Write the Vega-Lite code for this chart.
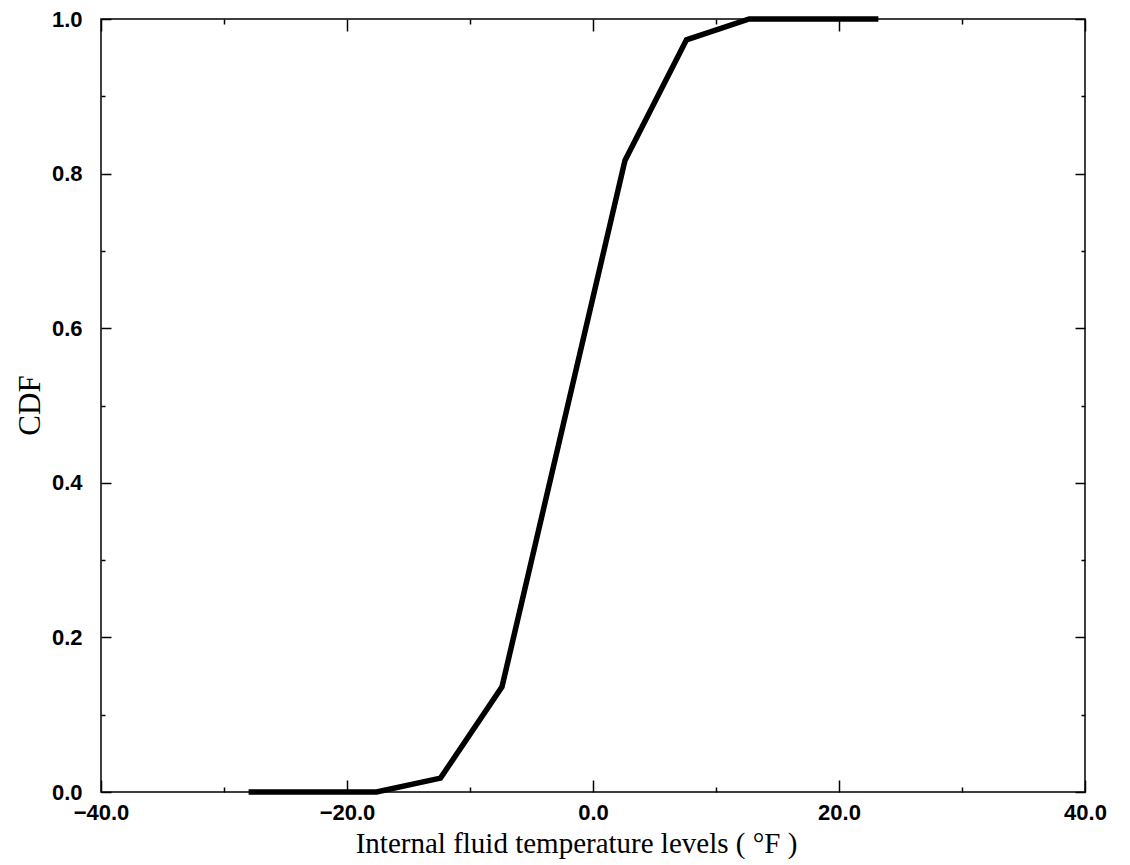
{
  "$schema": "https://vega.github.io/schema/vega-lite/v6.json",
  "autosize": "none",
  "width": 984,
  "height": 773,
  "padding": {"left": 101, "top": 19, "right": 45, "bottom": 73},
  "background": "white",
  "config": {
    "view": {"stroke": "black", "strokeWidth": 1.5},
    "axis": {"grid": false, "domain": false, "labelColor": "black", "tickColor": "black", "titleColor": "black"}
  },
  "data": {
    "values": [
      {"temp": -28.0, "cdf": 0.0},
      {"temp": -17.6, "cdf": 0.0},
      {"temp": -12.4, "cdf": 0.018},
      {"temp": -7.4, "cdf": 0.136},
      {"temp": 2.6, "cdf": 0.817},
      {"temp": 7.6, "cdf": 0.973},
      {"temp": 12.7, "cdf": 1.0},
      {"temp": 23.2, "cdf": 1.0}
    ]
  },
  "resolve": {"axis": {"x": "independent", "y": "independent"}},
  "layer": [
    {
      "mark": {"type": "line", "color": "black", "strokeWidth": 5.5, "strokeCap": "butt", "strokeJoin": "miter", "clip": false},
      "encoding": {
        "x": {
          "field": "temp", "type": "quantitative",
          "scale": {"domain": [-40, 40], "nice": false, "zero": false},
          "axis": {
            "orient": "bottom", "values": [-40, -20, 0, 20, 40], "format": ".1f",
            "ticks": false, "labelPadding": 10,
            "labelFont": "Liberation Sans", "labelFontWeight": "bold", "labelFontSize": 22,
            "labelBaseline": "top", "labelFlush": false, "labelOverlap": false,
            "title": "Internal fluid temperature levels ( °F )",
            "titleFont": "Liberation Serif", "titleFontWeight": "normal", "titleFontSize": 29,
            "titleAnchor": "middle", "titleX": 475, "titleY": 60, "titleBaseline": "alphabetic"
          }
        },
        "y": {
          "field": "cdf", "type": "quantitative",
          "scale": {"domain": [0, 1], "nice": false, "zero": false},
          "axis": {
            "orient": "left", "values": [0, 0.2, 0.4, 0.6, 0.8, 1.0], "format": ".1f",
            "ticks": false, "labelPadding": 19,
            "labelFont": "Liberation Sans", "labelFontWeight": "bold", "labelFontSize": 22,
            "labelBaseline": "middle", "labelFlush": false, "labelOverlap": false,
            "title": "CDF",
            "titleFont": "Liberation Serif", "titleFontWeight": "normal", "titleFontSize": 31,
            "titleAngle": -90, "titleX": -71, "titleY": 386, "titleAnchor": "middle", "titleBaseline": "middle"
          }
        }
      }
    },
    {
      "mark": {"type": "point", "opacity": 0},
      "encoding": {
        "x": {"field": "temp", "type": "quantitative", "axis": {"orient": "bottom", "values": [-40, -20, 0, 20, 40], "labels": false, "title": null, "tickSize": -12, "tickWidth": 1.5}},
        "y": {"field": "cdf", "type": "quantitative", "axis": {"orient": "left", "values": [0, 0.2, 0.4, 0.6, 0.8, 1.0], "labels": false, "title": null, "tickSize": -10, "tickWidth": 1.5}}
      }
    },
    {
      "mark": {"type": "point", "opacity": 0},
      "encoding": {
        "x": {"field": "temp", "type": "quantitative", "axis": {"orient": "bottom", "values": [-30, -10, 10, 30], "labels": false, "title": null, "tickSize": -5, "tickWidth": 1.5}},
        "y": {"field": "cdf", "type": "quantitative", "axis": {"orient": "left", "values": [0.1, 0.3, 0.5, 0.7, 0.9], "labels": false, "title": null, "tickSize": -4, "tickWidth": 1.5}}
      }
    },
    {
      "mark": {"type": "point", "opacity": 0},
      "encoding": {
        "x": {"field": "temp", "type": "quantitative", "axis": {"orient": "top", "values": [-40, -20, 0, 20, 40], "labels": false, "title": null, "tickSize": -12, "tickWidth": 1.5}},
        "y": {"field": "cdf", "type": "quantitative", "axis": {"orient": "right", "values": [0, 0.2, 0.4, 0.6, 0.8, 1.0], "labels": false, "title": null, "tickSize": -10, "tickWidth": 1.5}}
      }
    },
    {
      "mark": {"type": "point", "opacity": 0},
      "encoding": {
        "x": {"field": "temp", "type": "quantitative", "axis": {"orient": "top", "values": [-30, -10, 10, 30], "labels": false, "title": null, "tickSize": -5, "tickWidth": 1.5}},
        "y": {"field": "cdf", "type": "quantitative", "axis": {"orient": "right", "values": [0.1, 0.3, 0.5, 0.7, 0.9], "labels": false, "title": null, "tickSize": -4, "tickWidth": 1.5}}
      }
    }
  ]
}
